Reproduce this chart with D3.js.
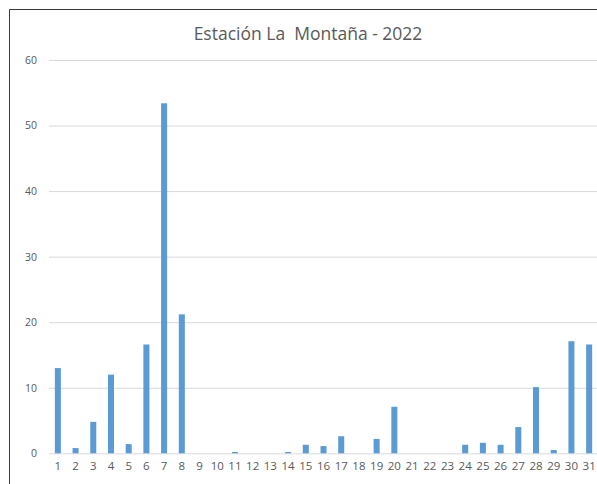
<!DOCTYPE html>
<html>
<head>
<meta charset="utf-8">
<script src="https://cdn.jsdelivr.net/npm/d3@7"></script>
<style>
  body { margin: 0; background: #fff; }
  svg { display: block; font-family: "Open Sans", "Noto Sans", sans-serif; }
</style>
</head>
<body>
<svg id="chart" width="597" height="484"></svg>
<script>
// days of the month
const days = ["1","2","3","4","5","6","7","8","9","10","11","12","13","14","15","16",
              "17","18","19","20","21","22","23","24","25","26","27","28","29","30","31"];
// daily values
const values = [13.0, 0.8, 4.8, 12.0, 1.4, 16.6, 53.4, 21.2, 0, 0, 0.2, 0, 0, 0.2, 1.3, 1.1,
                2.6, 0, 2.2, 7.1, 0, 0, 0, 1.3, 1.6, 1.3, 4.0, 10.1, 0.5, 17.1, 16.6];
const yTicks = [0, 10, 20, 30, 40, 50, 60];
const title = "Estación La  Montaña - 2022";

const svg = d3.select("#chart");
const margin = {top: 60, left: 49, bottom: 484 - 453.3};
const plotRight = 598;

// chart area border (only left and top are visible in the crop)
svg.append("path")
  .attr("d", "M9.5,484 V9.5 H597")
  .attr("fill", "none")
  .attr("stroke", "#3a3a3a")
  .attr("stroke-width", 1);

// title
svg.append("text")
  .attr("x", 308)
  .attr("y", 40)
  .attr("text-anchor", "middle")
  .attr("fill", "#595959")
  .attr("font-size", 17.5)
  .style("white-space", "pre")
  .text(title);

const x = d3.scaleBand()
  .domain(days)
  .range([margin.left, plotRight])
  .paddingInner(0.66)
  .paddingOuter(0.33);

const y = d3.scaleLinear()
  .domain([0, 60])
  .range([484 - margin.bottom, margin.top]);

// gridlines + y labels
const yAxis = svg.append("g")
  .attr("transform", `translate(${margin.left},0)`)
  .call(d3.axisLeft(y).tickValues(yTicks).tickSize(-(plotRight - margin.left)).tickPadding(12));
yAxis.select(".domain").remove();
yAxis.selectAll(".tick line").attr("stroke", "#d9d9d9");
yAxis.selectAll(".tick text")
  .attr("fill", "#595959")
  .attr("font-size", 10.5)
  .attr("font-family", "Open Sans, sans-serif");

// bars
svg.append("g")
  .selectAll("rect")
  .data(values)
  .join("rect")
  .attr("x", (d, i) => x(days[i]))
  .attr("width", x.bandwidth())
  .attr("y", d => y(d))
  .attr("height", d => y(0) - y(d))
  .attr("fill", "#5b9bd5");

// x axis labels
const xAxis = svg.append("g")
  .attr("transform", `translate(0,${y(0)})`)
  .call(d3.axisBottom(x).tickSize(0).tickPadding(9));
xAxis.select(".domain").remove();
xAxis.selectAll(".tick text")
  .attr("fill", "#595959")
  .attr("font-size", 11.5)
  .attr("font-family", "Open Sans, sans-serif");
</script>
</body>
</html>
